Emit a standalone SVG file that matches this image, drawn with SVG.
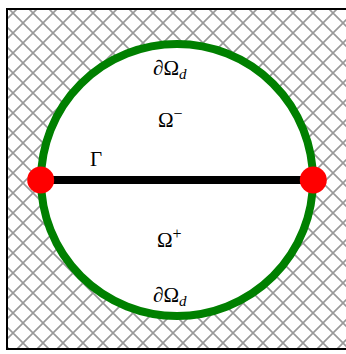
<svg xmlns="http://www.w3.org/2000/svg" width="346" height="354" viewBox="0 0 346 354">
  <defs>
    <pattern id="hatch" patternUnits="userSpaceOnUse" x="3" y="3" width="20" height="20">
      <path d="M-2,-2 L22,22 M22,-2 L-2,22" stroke="#999" stroke-width="1.6" fill="none"/>
    </pattern>
    <style>
      .lbl { font-family: "Liberation Serif", "DejaVu Serif", serif; font-size: 21px; fill: #000; }
      .sub { font-size: 15px; font-style: italic; }
      .sup { font-size: 16px; }
      .dot { fill: #ff0000; }
    </style>
  </defs>
  <g id="domain">
    <rect x="7" y="9" width="342" height="340" fill="url(#hatch)" stroke="#000" stroke-width="2"/>
  </g>
  <g id="boundary">
    <circle cx="177" cy="180" r="136" fill="#fff" stroke="#008000" stroke-width="8"/>
  </g>
  <g id="connectors">
    <line x1="41" y1="180" x2="313" y2="180" stroke="#000" stroke-width="8"/>
  </g>
  <g id="endpoint-left"><circle class="dot" cx="40.7" cy="180" r="13.5"/></g>
  <g id="endpoint-right"><circle class="dot" cx="313.3" cy="180" r="13.5"/></g>
  <g id="label-top"><text class="lbl" x="153" y="75">∂Ω<tspan class="sub" dy="4">d</tspan></text></g>
  <g id="label-omega-minus"><text class="lbl" x="158" y="127">Ω<tspan class="sup" dy="-8">−</tspan></text></g>
  <g id="label-gamma"><text class="lbl" x="90" y="166">Γ</text></g>
  <g id="label-omega-plus"><text class="lbl" x="157" y="247">Ω<tspan class="sup" dy="-8">+</tspan></text></g>
  <g id="label-bottom"><text class="lbl" x="153" y="302">∂Ω<tspan class="sub" dy="4">d</tspan></text></g>
</svg>
